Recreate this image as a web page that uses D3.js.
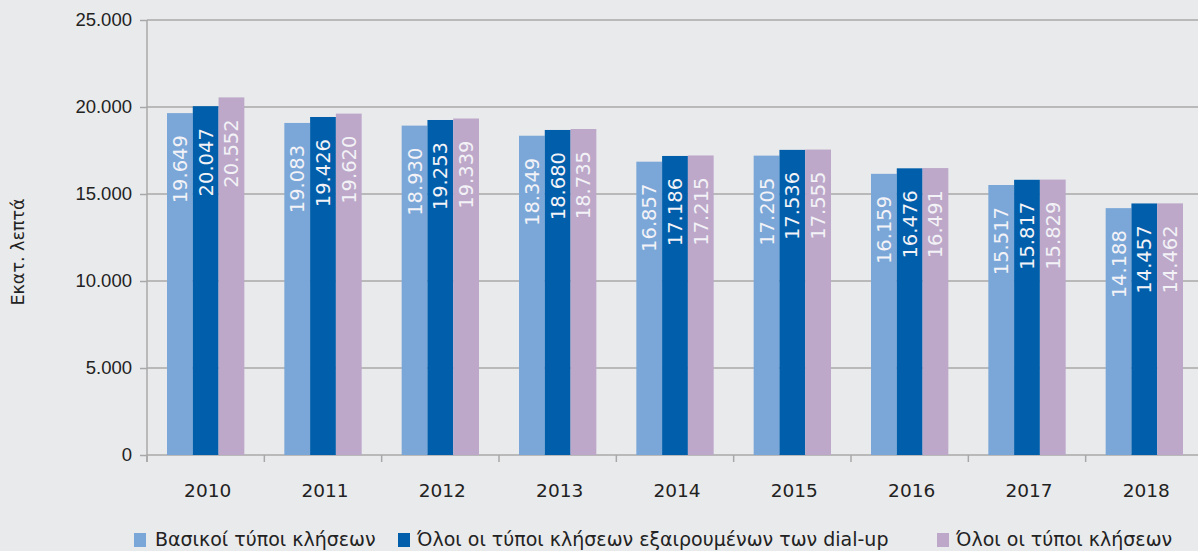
<!DOCTYPE html>
<html>
<head>
<meta charset="utf-8">
<script src="https://cdn.jsdelivr.net/npm/d3@7"></script>
<style>
  html, body { margin: 0; padding: 0; background: #e9eaec; }
  svg { display: block; font-family: "DejaVu Sans", Verdana, sans-serif; }
</style>
</head>
<body>
<svg id="chart" width="1198" height="551"></svg>
<script>
/***********************************************************************/
// Data

var years = ['2010', '2011', '2012', '2013', '2014', '2015', '2016', '2017', '2018'];
var seriesNames = ['Βασικοί τύποι κλήσεων', 'Όλοι οι τύποι κλήσεων εξαιρουμένων των dial-up', 'Όλοι οι τύποι κλήσεων'];
var basicCalls = [19649, 19083, 18930, 18349, 16857, 17205, 16159, 15517, 14188];
var noDialup = [20047, 19426, 19253, 18680, 17186, 17536, 16476, 15817, 14457];
var allCalls = [20552, 19620, 19339, 18735, 17215, 17555, 16491, 15829, 14462];
var yTicks = [0, 5000, 10000, 15000, 20000, 25000];
var yTitle = 'Εκατ. λεπτά';

var colors = ['#7ba7d8', '#005eab', '#bda8c9'];
var series = [basicCalls, noDialup, allCalls];

/***********************************************************************/
// Scales

var svg = d3.select('#chart');
var plotLeft = 147, plotRight = 1203, plotTop = 20, plotBottom = 455;

var greek = d3.formatLocale({ decimal: ',', thousands: '.', grouping: [3], currency: ['', '€'] });
var fmt = greek.format(',');

var x0 = d3.scaleBand().domain(years).range([plotLeft, plotRight]);
var x1 = d3.scaleBand().domain(d3.range(series.length)).range([20, x0.bandwidth() - 20]);
var y = d3.scaleLinear().domain([0, 25000]).range([plotBottom, plotTop]);

/***********************************************************************/
// Grid and axes

var yAxis = svg.append('g')
  .attr('transform', 'translate(' + plotLeft + ',0)')
  .call(d3.axisLeft(y).tickValues(yTicks).tickSize(7).tickPadding(8).tickFormat(d => fmt(d)));
yAxis.select('.domain').remove();
yAxis.selectAll('.tick line').attr('stroke', '#a8a8a8').attr('stroke-width', 1.5);
yAxis.selectAll('.tick text').attr('fill', '#222').style('font-size', '18.5px');

svg.append('g').selectAll('line').data(yTicks).join('line')
  .attr('x1', plotLeft).attr('x2', 1198)
  .attr('y1', d => y(d)).attr('y2', d => y(d))
  .attr('stroke', '#a8a8a8').attr('stroke-width', 1.5);

svg.append('line')
  .attr('x1', plotLeft).attr('x2', plotLeft).attr('y1', plotTop).attr('y2', plotBottom + 7)
  .attr('stroke', '#a8a8a8').attr('stroke-width', 1.5);

// x ticks at band boundaries
svg.append('g').selectAll('line').data(years).join('line')
  .attr('x1', d => x0(d)).attr('x2', d => x0(d))
  .attr('y1', plotBottom).attr('y2', plotBottom + 7)
  .attr('stroke', '#a8a8a8').attr('stroke-width', 1.5);

svg.append('g').selectAll('text').data(years).join('text')
  .attr('x', d => x0(d) + x0.bandwidth() / 2 + 2)
  .attr('y', 497)
  .attr('text-anchor', 'middle')
  .attr('fill', '#222')
  .style('font-size', '18.5px')
  .text(d => d);

svg.append('text')
  .attr('transform', 'translate(24,252) rotate(-90)')
  .attr('text-anchor', 'middle')
  .attr('fill', '#222')
  .style('font-size', '17.5px')
  .text(yTitle);

/***********************************************************************/
// Bars

var groups = svg.append('g').selectAll('g').data(years).join('g')
  .attr('transform', d => 'translate(' + x0(d) + ',0)');

series.forEach((vals, s) => {
  groups.append('rect')
    .attr('x', x1(s))
    .attr('width', x1.bandwidth())
    .attr('y', (d, i) => y(vals[i]))
    .attr('height', (d, i) => plotBottom - y(vals[i]))
    .attr('fill', colors[s]);

  groups.append('text')
    .attr('transform', (d, i) => 'translate(' + (x1(s) + x1.bandwidth() / 2 + 7) + ',' + (y(vals[i]) + 22) + ') rotate(-90)')
    .attr('text-anchor', 'end')
    .attr('fill', '#f2f2f7')
    .style('font-size', '19.5px')
    .text((d, i) => fmt(vals[i]));
});

/***********************************************************************/
// Legend

var legendX = [134, 398, 937];
var legend = svg.append('g').selectAll('g').data(seriesNames).join('g')
  .attr('transform', (d, i) => 'translate(' + legendX[i] + ',533)');
legend.append('rect').attr('width', 12).attr('height', 14).attr('fill', (d, i) => colors[i]);
legend.append('text')
  .attr('x', (d, i) => i === 0 ? 21 : 19)
  .attr('y', 13)
  .attr('fill', '#222')
  .style('font-size', '19px')
  .text(d => d);
</script>
</body>
</html>
